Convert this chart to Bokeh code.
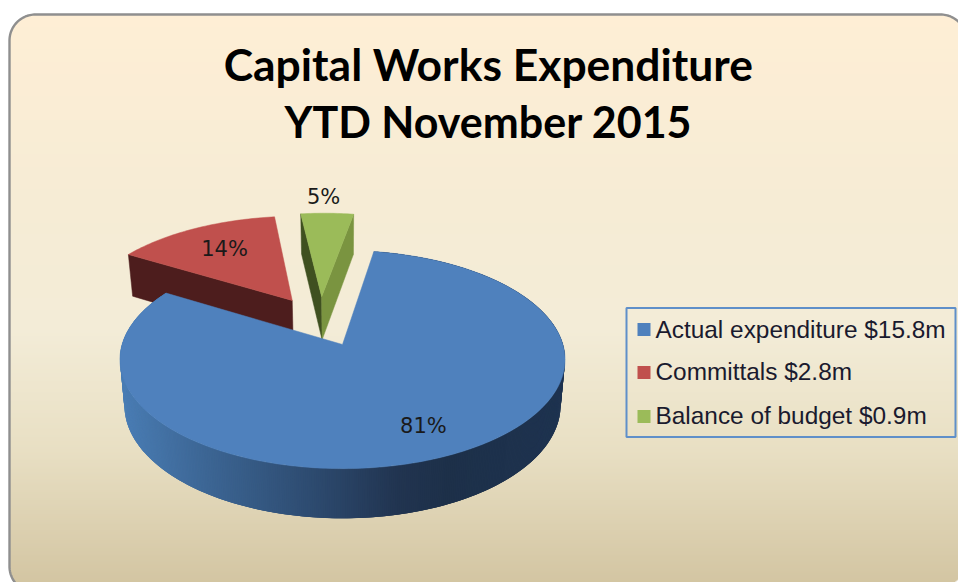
import math
from bokeh.core.properties import value
from bokeh.embed import file_html
from bokeh.models import Range1d
from bokeh.plotting import figure
from bokeh.resources import INLINE

# ---- chart data
title_lines = ["Capital Works Expenditure", "YTD November 2015"]
categories = ["Actual expenditure $15.8m", "Committals $2.8m", "Balance of budget $0.9m"]
amounts = [15.8, 2.8, 0.9]
percent_labels = ["81%", "14%", "5%"]
top_colors = ["#4f81bd", "#c0504d", "#9bbb59"]

# ---- layout / projection of the 3D pie
FIRST_ANGLE = 9.3
EXPLODE = 0.25
TIP_X, TIP_Y = 342.0, 344.0
A, B, PERSP = 220.4, 107.0, 0.138
DEPTH, DEPTH_SLOPE, BOTTOM_X_SCALE = 45.0, 4.0, 0.98
RED_WALL = "#4d1d1d"
GREEN_WALL_L, GREEN_WALL_R = "#3f5020", "#7a9440"
BLUE_STOPS = [(120, (74, 125, 180)), (200, (61, 103, 150)), (300, (47, 78, 116)),
              (400, (33, 52, 80)), (450, (29, 48, 73)), (565, (30, 51, 80))]
BG_STOPS = [(14, (254, 238, 213)), (200, (246, 236, 213)), (330, (243, 236, 215)),
            (450, (232, 223, 195)), (582, (211, 197, 162))]
LEFT, TOP, RIGHT, BOTTOM_L, BOTTOM_R, RAD = 9.0, 14.0, 966.0, 592.0, 585.0, 26.0


def lerp(stops, t):
    if t <= stops[0][0]:
        return stops[0][1]
    for (t0, c0), (t1, c1) in zip(stops, stops[1:]):
        if t <= t1:
            f = (t - t0) / (t1 - t0)
            return tuple(c0[i] + (c1[i] - c0[i]) * f for i in range(3))
    return stops[-1][1]


def rgb(c):
    return "#%02x%02x%02x" % tuple(int(round(v)) for v in c)


def top_pt(u, v):
    w = 1 + PERSP * v
    return TIP_X + A * u / w, TIP_Y - B * v / w


def bottom_pt(u, v):
    w = 1 + PERSP * v
    return (TIP_X + BOTTOM_X_SCALE * A * u / w,
            TIP_Y + DEPTH - (B + DEPTH_SLOPE) * v / w)


# slice angles come from the amounts
total = sum(amounts)
starts, ends = [], []
a = FIRST_ANGLE
for amt in amounts:
    starts.append(a)
    a += 360.0 * amt / total
    ends.append(a)


def direction(deg):
    return math.sin(math.radians(deg)), math.cos(math.radians(deg))


mids = [(s + e) / 2 for s, e in zip(starts, ends)]
d0 = direction(mids[0])
tips = [(EXPLODE * (direction(m)[0] - d0[0]), EXPLODE * (direction(m)[1] - d0[1])) for m in mids]


def rim(i, deg):
    du, dv = direction(deg)
    return tips[i][0] + du, tips[i][1] + dv


def arc_degs(s, e, step=1.0):
    n = max(2, int((e - s) / step))
    return [s + (e - s) * k / n for k in range(n + 1)]


p = figure(width=958, height=582, x_range=Range1d(0, 958), y_range=Range1d(582, 0),
           output_backend="svg", toolbar_location=None, min_border=0,
           x_axis_type=None, y_axis_type=None, outline_line_color=None,
           background_fill_color="white", border_fill_color="white")
p.grid.visible = False


# ---- rounded gradient panel
def corner_inset(y, bottom):
    if y < TOP + RAD:
        return RAD - math.sqrt(max(0, RAD**2 - (TOP + RAD - y) ** 2))
    if y > bottom - RAD:
        return RAD - math.sqrt(max(0, RAD**2 - (y - bottom + RAD) ** 2))
    return 0.0


xs, ys, cols = [], [], []
y = TOP
while y < 582:
    l = LEFT + corner_inset(y + 0.5, BOTTOM_L)
    r = RIGHT - corner_inset(y + 0.5, BOTTOM_R)
    xs.append([l, r, r, l])
    ys.append([y, y, y + 2, y + 2])
    cols.append(rgb(lerp(BG_STOPS, y)))
    y += 1
p.patches(xs, ys, fill_color=cols, line_color=None)

bx, by = [], []
for k in range(30, -1, -1):
    t = math.radians(90 * k / 30)
    bx.append(LEFT + RAD - RAD * math.cos(t))
    by.append(BOTTOM_L - RAD + RAD * math.sin(t))
for k in range(0, 31):
    t = math.radians(90 * k / 30)
    bx.append(LEFT + RAD - RAD * math.cos(t))
    by.append(TOP + RAD - RAD * math.sin(t))
for k in range(0, 31):
    t = math.radians(90 * k / 30)
    bx.append(RIGHT - RAD + RAD * math.sin(t))
    by.append(TOP + RAD - RAD * math.cos(t))
p.line(bx, by, line_color="#8f8f8f", line_width=2.4)

# ---- green slice (two radial walls, then top)
G = 2
c0 = top_pt(*rim(G, starts[G])); c0b = bottom_pt(*rim(G, starts[G]))
c1 = top_pt(*rim(G, ends[G])); c1b = bottom_pt(*rim(G, ends[G]))
t_top = top_pt(*tips[G]); t_bot = bottom_pt(*tips[G])
p.patch([c0[0], c0b[0], t_bot[0], t_top[0]], [c0[1], c0b[1], t_bot[1], t_top[1]],
        fill_color=GREEN_WALL_L, line_color=GREEN_WALL_L, line_width=0.5)
p.patch([c1[0], c1b[0], t_bot[0], t_top[0]], [c1[1], c1b[1], t_bot[1], t_top[1]],
        fill_color=GREEN_WALL_R, line_color=GREEN_WALL_R, line_width=0.5)

# ---- red slice radial wall
R = 1
c0 = top_pt(*rim(R, starts[R])); c0b = bottom_pt(*rim(R, starts[R]))
t_top = top_pt(*tips[R]); t_bot = bottom_pt(*tips[R])
p.patch([c0[0], c0b[0], t_bot[0], t_top[0]], [c0[1], c0b[1], t_bot[1], t_top[1]],
        fill_color=RED_WALL, line_color=RED_WALL, line_width=0.5)

# ---- blue outer wall: thin overlapping strips shaded along x
wx, wy, wc = [], [], []
blue_degs = arc_degs(starts[0], ends[0], 0.5)
for k in range(len(blue_degs) - 1):
    d_a, d_b = blue_degs[k], blue_degs[min(k + 3, len(blue_degs) - 1)]
    a0 = top_pt(*rim(0, d_a)); a1 = top_pt(*rim(0, d_b))
    b0 = bottom_pt(*rim(0, d_a)); b1 = bottom_pt(*rim(0, d_b))
    wx.append([a0[0], a1[0], b1[0], b0[0]])
    wy.append([a0[1], a1[1], b1[1], b0[1]])
    wc.append(rgb(lerp(BLUE_STOPS, a0[0])))
p.patches(wx, wy, fill_color=wc, line_color=None)

# ---- top faces
for i in [2, 1, 0]:
    pts = [top_pt(*tips[i])] + [top_pt(*rim(i, d)) for d in arc_degs(starts[i], ends[i], 1.0)]
    p.patch([q[0] for q in pts], [q[1] for q in pts], fill_color=top_colors[i],
            line_color=top_colors[i], line_width=0.5)

# ---- percent labels (anchored on the pie plane through the projection)
LABEL_POS = [(0.332, -0.693), (-0.611, 1.023), (-0.106, 1.696)]
for i, lab in enumerate(percent_labels):
    lx, ly = top_pt(*LABEL_POS[i])
    p.text([lx], [ly], text=[lab], text_font=value("DejaVu Sans"), text_font_size="21px",
           text_align="center", text_baseline="middle", text_color="#1a1a1a")

# ---- title
for line, ty, fs in zip(title_lines, [63, 121], ["44.4px", "43px"]):
    p.text([488], [ty], text=[line], text_font=value("Lato"), text_font_style="bold",
           text_font_size=value(fs), text_align="center", text_baseline="middle", text_color="#000000")

# ---- legend
p.quad(left=[626], right=[955], top=[307.5], bottom=[436.5], fill_color=None,
       line_color="#5f8fc9", line_width=2)
LEG_Y = [329, 371, 415]
SWATCH_Y = [329, 372, 416]
for i, cat in enumerate(categories):
    p.quad(left=[637], right=[650], top=[SWATCH_Y[i] - 6.5], bottom=[SWATCH_Y[i] + 6.5],
           fill_color=top_colors[i], line_color=None)
    p.text([655], [LEG_Y[i]], text=[cat], text_font=value("Liberation Sans"), text_font_size="24.4px",
           text_align="left", text_baseline="middle", text_color="#1a1a2e")

open("out.html", "w").write(file_html(p, INLINE))
